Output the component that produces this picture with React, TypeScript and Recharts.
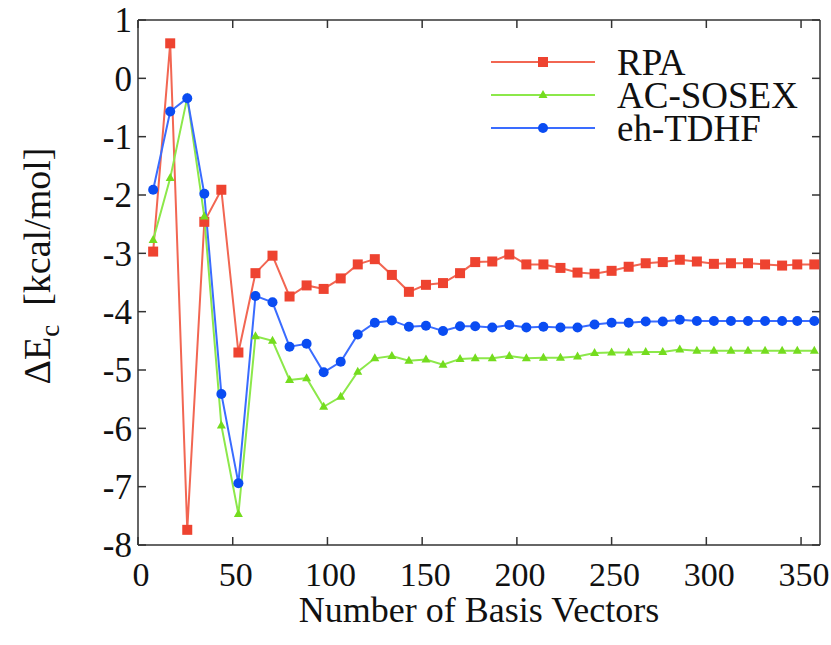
import { LineChart, Line, XAxis, YAxis, Label } from "recharts";

// number of basis vectors
const basisVectors = [
  8, 17, 26, 35, 44, 53, 62, 71, 80, 89, 98, 107, 116, 125, 134, 143, 152, 161, 170, 178,
  187, 196, 205, 214, 223, 232, 241, 250, 259, 268, 277, 286, 295, 304, 313, 322, 331, 340, 348, 357,
];

// ΔEc in kcal/mol
const rpa = [
  -2.97, 0.6, -7.74, -2.46, -1.91, -4.7, -3.34, -3.04, -3.74, -3.55,
  -3.61, -3.43, -3.19, -3.1, -3.37, -3.66, -3.54, -3.51, -3.34, -3.15,
  -3.14, -3.02, -3.19, -3.19, -3.25, -3.33, -3.35, -3.3, -3.23, -3.17,
  -3.15, -3.11, -3.14, -3.18, -3.17, -3.17, -3.19, -3.21, -3.19, -3.19,
];
const acSosex = [
  -2.77, -1.71, -0.33, -2.37, -5.95, -7.47, -4.42, -4.5, -5.17, -5.14,
  -5.63, -5.46, -5.03, -4.8, -4.76, -4.84, -4.82, -4.91, -4.81, -4.8,
  -4.8, -4.76, -4.8, -4.79, -4.79, -4.77, -4.71, -4.7, -4.7, -4.69,
  -4.69, -4.65, -4.67, -4.67, -4.67, -4.67, -4.67, -4.67, -4.67, -4.67,
];
const ehTdhf = [
  -1.91, -0.57, -0.34, -1.98, -5.41, -6.94, -3.73, -3.84, -4.6, -4.55,
  -5.04, -4.86, -4.39, -4.19, -4.15, -4.26, -4.24, -4.33, -4.25, -4.25,
  -4.27, -4.23, -4.27, -4.26, -4.27, -4.27, -4.22, -4.19, -4.19, -4.17,
  -4.17, -4.14, -4.16, -4.16, -4.16, -4.16, -4.16, -4.16, -4.16, -4.16,
];

const xTicks = [0, 50, 100, 150, 200, 250, 300, 350];
const yTicks = [1, 0, -1, -2, -3, -4, -5, -6, -7, -8];

const data = basisVectors.map((x, i) => ({ x, rpa: rpa[i], sosex: acSosex[i], tdhf: ehTdhf[i] }));

const FONT = '"Liberation Serif", "Times New Roman", "DejaVu Serif", serif';
const FRAME = "#333";
const RED = "#ee4330";
const RED_LINE = "#f26652";
const GREEN = "#74dc1e";
const GREEN_LINE = "#8ce84a";
const BLUE = "#0a4cf2";
const BLUE_LINE = "#3a6cff";
const txt = { fontFamily: FONT, fill: "#111" };

const BottomTick = ({ x, y, payload }: any) => (
  <g>
    <line x1={x} x2={x} y1={y} y2={y - 8} stroke={FRAME} strokeWidth={1.5} />
    <text x={x + 3} y={y + 41} textAnchor="middle" style={{ ...txt, fontSize: 34 }}>
      {payload.value}
    </text>
  </g>
);
const TopTick = ({ x, y }: any) => <line x1={x} x2={x} y1={y} y2={y + 8} stroke={FRAME} strokeWidth={1.5} />;
const LeftTick = ({ x, y, payload }: any) => (
  <g>
    <line x1={x} x2={x + 8} y1={y} y2={y} stroke={FRAME} strokeWidth={1.5} />
    <text x={x - 6} y={y} dy="0.35em" textAnchor="end" style={{ ...txt, fontSize: 35 }}>
      {payload.value}
    </text>
  </g>
);
const RightTick = ({ x, y }: any) => <line x1={x} x2={x - 8} y1={y} y2={y} stroke={FRAME} strokeWidth={1.5} />;

const square = (p: any) => <rect key={`s${p.index}`} x={p.cx - 5} y={p.cy - 5} width={10} height={10} fill={RED} />;
const triangle = (p: any) => (
  <polygon
    key={`t${p.index}`}
    points={`${p.cx},${p.cy - 5} ${p.cx - 4.5},${p.cy + 3} ${p.cx + 4.5},${p.cy + 3}`}
    fill={GREEN}
  />
);
const circle = (p: any) => <circle key={`c${p.index}`} cx={p.cx} cy={p.cy} r={5} fill={BLUE} />;

const legendItems = [
  { name: "RPA", line: RED_LINE, marker: "square" },
  { name: "AC-SOSEX", line: GREEN_LINE, marker: "triangle" },
  { name: "eh-TDHF", line: BLUE_LINE, marker: "circle" },
];

const App = () => (
  <div style={{ position: "absolute", left: 0, top: 0, width: 831, height: 645, background: "#fff" }}>
    <LineChart width={831} height={645} data={data} margin={{ top: 19, right: 10, bottom: 99, left: 137 }}>
      <XAxis
        xAxisId="b"
        type="number"
        dataKey="x"
        domain={[0, 360]}
        ticks={xTicks}
        height={1}
        tickSize={0}
        tickMargin={0}
        tick={BottomTick}
        axisLine={{ stroke: FRAME, strokeWidth: 1.5 }}
        allowDataOverflow
      >
        <Label
          content={({ viewBox }: any) => (
            <text
              x={viewBox.x + viewBox.width / 2}
              y={622}
              textAnchor="middle"
              style={{ ...txt, fontSize: 36 }}
            >
              Number of Basis Vectors
            </text>
          )}
        />
      </XAxis>
      <XAxis
        xAxisId="t"
        orientation="top"
        type="number"
        dataKey="x"
        domain={[0, 360]}
        ticks={xTicks}
        height={1}
        tickSize={0}
        tickMargin={0}
        tick={TopTick}
        axisLine={{ stroke: FRAME, strokeWidth: 1.5 }}
        allowDataOverflow
      />
      <YAxis
        yAxisId="l"
        type="number"
        domain={[-8, 1]}
        ticks={yTicks}
        width={1}
        tickSize={0}
        tickMargin={0}
        tick={LeftTick}
        axisLine={{ stroke: FRAME, strokeWidth: 1.5 }}
        allowDataOverflow
      >
        <Label
          content={() => {
            const cx = 50;
            const cy = 266;
            return (
              <text
                x={cx}
                y={cy}
                transform={`rotate(-90 ${cx} ${cy})`}
                textAnchor="middle"
                style={{ ...txt, fontSize: 38 }}
              >
                ΔE
                <tspan style={{ fontSize: 27 }} dy={9}>c</tspan>
                <tspan dy={-9}>{"\u00a0\u00a0[kcal/mol]"}</tspan>
              </text>
            );
          }}
        />
      </YAxis>
      <YAxis
        yAxisId="r"
        orientation="right"
        type="number"
        domain={[-8, 1]}
        ticks={yTicks}
        width={1}
        tickSize={0}
        tickMargin={0}
        tick={RightTick}
        axisLine={{ stroke: FRAME, strokeWidth: 1.5 }}
        allowDataOverflow
      />
      <Line xAxisId="b" yAxisId="l" type="linear" dataKey="rpa" stroke={RED_LINE} strokeWidth={2} dot={square} isAnimationActive={false} />
      <Line xAxisId="b" yAxisId="l" type="linear" dataKey="sosex" stroke={GREEN_LINE} strokeWidth={2} dot={triangle} isAnimationActive={false} />
      <Line xAxisId="b" yAxisId="l" type="linear" dataKey="tdhf" stroke={BLUE_LINE} strokeWidth={2} dot={circle} isAnimationActive={false} />
    </LineChart>
    <svg width={340} height={140} style={{ position: "absolute", left: 480, top: 25 }}>
      {legendItems.map((item, i) => {
        const y = 37 + i * 33;
        return (
          <g key={item.name}>
            <line x1={11} x2={115} y1={y} y2={y} stroke={item.line} strokeWidth={2} />
            {item.marker === "square" && <rect x={58} y={y - 5} width={10} height={10} fill={RED} />}
            {item.marker === "triangle" && (
              <polygon points={`63,${y - 5} 58.5,${y + 3} 67.5,${y + 3}`} fill={GREEN} />
            )}
            {item.marker === "circle" && <circle cx={63} cy={y} r={5} fill={BLUE} />}
            <text x={137} y={y} dy="0.35em" style={{ ...txt, fontSize: 37 }}>
              {item.name}
            </text>
          </g>
        );
      })}
    </svg>
  </div>
);

export default App;
